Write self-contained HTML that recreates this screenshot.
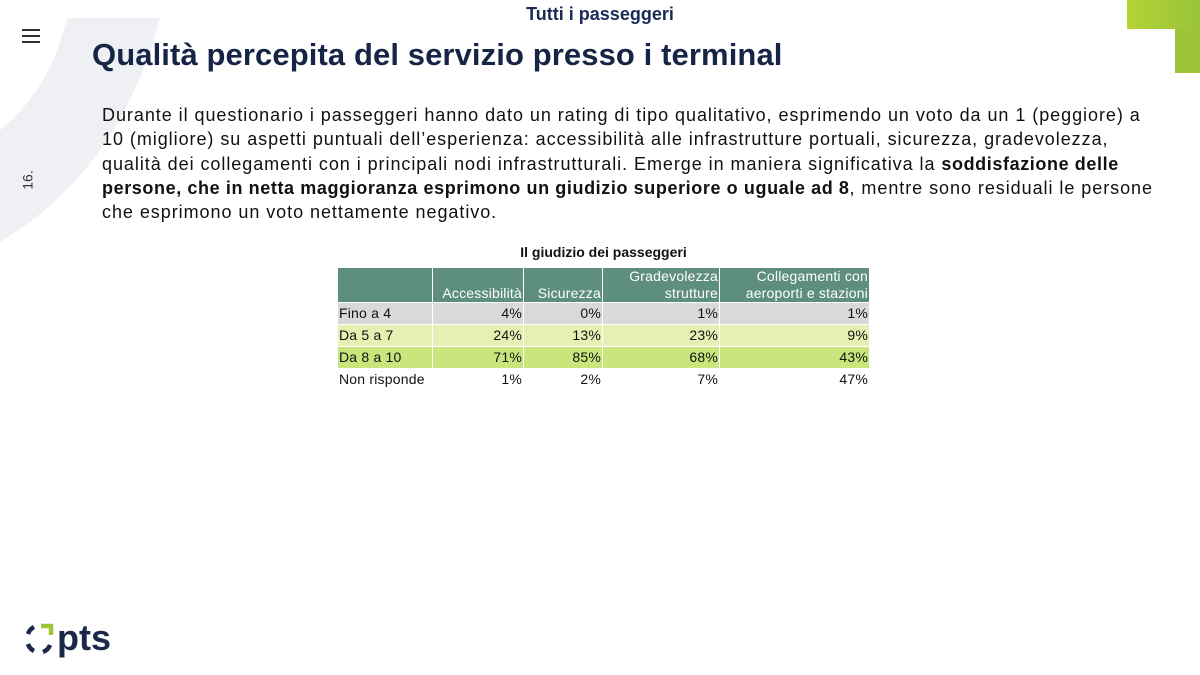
<!DOCTYPE html>
<html><head><meta charset="utf-8"><style>
body{margin:0;width:1200px;height:675px;position:relative;overflow:hidden;background:#fff;font-family:"Liberation Sans",sans-serif;color:#111}
.abs{position:absolute}
table{border-collapse:collapse;font-size:14px;letter-spacing:0.2px}
td{padding:0 1px;border:1px solid #fff;text-align:right;height:21px;line-height:21px}
td:first-child{text-align:left}
.h td{background:#5e8f7c;color:#fff;vertical-align:bottom;line-height:17px;height:34px}
</style></head><body>
<svg class="abs" style="left:0;top:0" width="200" height="260">
<path d="M67 18 L160 18 Q120 170 0 242 L0 130 Q50 90 67 18 Z" fill="#eff0f4"/>
</svg>
<div class="abs" style="left:1127px;top:0;width:73px;height:29px;background:linear-gradient(90deg,#b4d336,#98c33a)"></div>
<div class="abs" style="left:1175px;top:29px;width:25px;height:44px;background:#9ec53a"></div>
<div class="abs" style="left:22px;top:29px;width:18px;height:2px;background:#333"></div>
<div class="abs" style="left:22px;top:35px;width:18px;height:2px;background:#333"></div>
<div class="abs" style="left:22px;top:41px;width:18px;height:2px;background:#333"></div>
<div class="abs" style="left:18px;top:172px;transform:rotate(-90deg);font-size:14px;color:#333">16.</div>
<div class="abs" style="left:0;width:1200px;top:4px;text-align:center;font-weight:bold;font-size:18px;color:#1b2b55">Tutti i passeggeri</div>
<div class="abs" style="left:92px;top:37px;font-weight:bold;font-size:31px;letter-spacing:0.1px;color:#162546;white-space:nowrap">Qualità percepita del servizio presso i terminal</div>
<div class="abs" style="left:102px;top:103px;font-size:18px;letter-spacing:0.95px;line-height:24.3px;color:#111;white-space:nowrap">Durante il questionario i passeggeri hanno dato un rating di tipo qualitativo, esprimendo un voto da un 1 (peggiore) a<br>10 (migliore) su aspetti puntuali dell’esperienza: accessibilità alle infrastrutture portuali, sicurezza, gradevolezza,<br>qualità dei collegamenti con i principali nodi infrastrutturali. Emerge in maniera significativa la <b style="letter-spacing:0.6px">soddisfazione delle</b><br><b style="letter-spacing:0.6px">persone, che in netta maggioranza esprimono un giudizio superiore o uguale ad 8</b>, mentre sono residuali le persone<br>che esprimono un voto nettamente negativo.</div>
<div class="abs" style="left:338px;width:531px;top:244px;text-align:center;font-weight:bold;font-size:14px">Il giudizio dei passeggeri</div>
<table class="abs" style="left:337px;top:267px;width:533px">
<tr class="h"><td style="width:92px"></td><td style="width:88px">Accessibilità</td><td style="width:76px">Sicurezza</td><td style="width:114px">Gradevolezza<br>strutture</td><td>Collegamenti con<br>aeroporti e stazioni</td></tr>
<tr style="background:#d9d9d9"><td>Fino a 4</td><td>4%</td><td>0%</td><td>1%</td><td>1%</td></tr>
<tr style="background:#e8efb2"><td>Da 5 a 7</td><td>24%</td><td>13%</td><td>23%</td><td>9%</td></tr>
<tr style="background:#c9e67c"><td>Da 8 a 10</td><td>71%</td><td>85%</td><td>68%</td><td>43%</td></tr>
<tr><td>Non risponde</td><td>1%</td><td>2%</td><td>7%</td><td>47%</td></tr>
</table>
<svg class="abs" style="left:24px;top:622px" width="100" height="36">
<path d="M4 12 A12 12 0 0 1 10 5" stroke="#1b2848" stroke-width="4.5" fill="none"/>
<path d="M4 22 A12 12 0 0 0 10 29" stroke="#1b2848" stroke-width="4.5" fill="none"/>
<path d="M19 30 A12 12 0 0 0 26 23" stroke="#1b2848" stroke-width="4.5" fill="none"/>
<path d="M17 4 L27 4 L27 13" stroke="#9ec53a" stroke-width="4.5" fill="none"/>
<text x="33" y="28" font-family="Liberation Sans" font-weight="bold" font-size="36" fill="#1b2848">pts</text>
</svg>
</body></html>
